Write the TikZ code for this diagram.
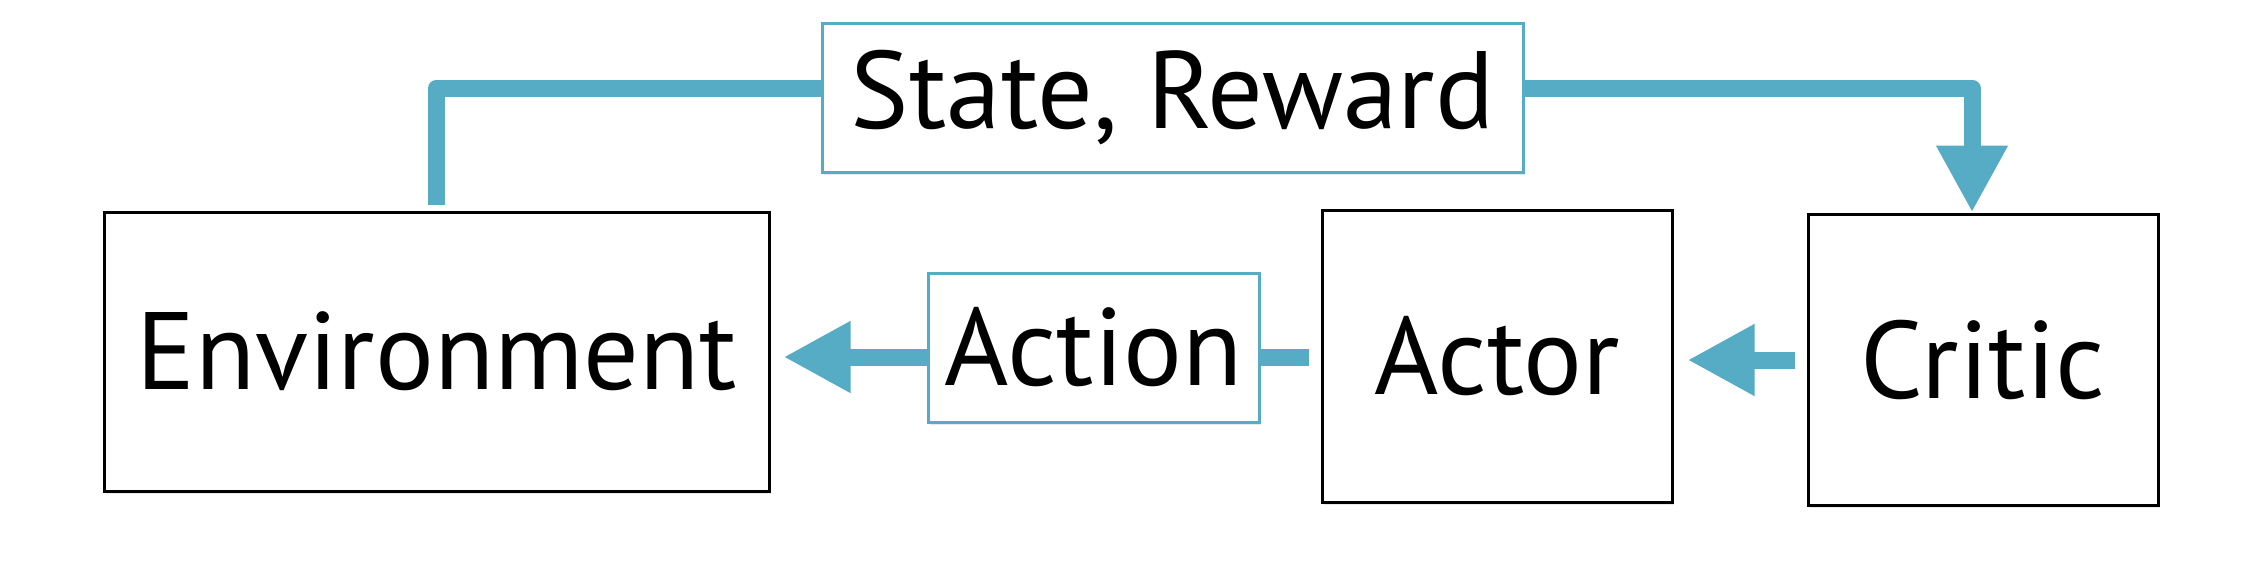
\documentclass[tikz,border=0pt]{standalone}
\usepackage{fontspec}
\setmainfont{PT Sans}
\usetikzlibrary{arrows.meta,shadows}
\definecolor{flowblue}{RGB}{86,172,196}
\tikzset{
  block/.style={draw=black,line width=3pt,fill=white,inner sep=0pt,
    drop shadow={opacity=0.18,shadow xshift=2pt,shadow yshift=-3pt}},
  lbl/.style={draw=flowblue,line width=3pt,fill=white,inner sep=0pt,
    drop shadow={opacity=0.18,shadow xshift=2pt,shadow yshift=-3pt}},
  flow/.style={draw=flowblue,line width=17pt},
  bigtip/.style={-{Triangle[length=67pt,width=67pt]}},
  txt/.style={font=\fontsize{110}{120}\selectfont}
}
\begin{document}
\begin{tikzpicture}[x=1pt,y=-1pt]
\useasboundingbox[fill=white] (0,0) rectangle (2266,562);
\node[block,txt,minimum width=665pt,minimum height=279pt] (env) at (436.5,351.5) {Environment};
\node[block,txt,minimum width=350pt,minimum height=292pt] (actor) at (1497,356) {Actor};
\node[block,txt,minimum width=350pt,minimum height=291pt] (critic) at (1983,359.5) {Critic};
\coordinate (turn) at (1972,88);
\draw[flow,line join=round,shorten <=6pt,bigtip] (env.north) |- (turn) -- (turn |- critic.north);
\draw[flow,shorten <=12pt,shorten >=13pt,bigtip] (actor.west |- 0,357) -- (env.east |- 0,357);
\draw[flow,shorten <=12pt,shorten >=14pt,bigtip] (critic.west |- 0,360) -- (actor.east |- 0,360);
\node[lbl,txt,minimum width=701pt,minimum height=149pt] (sr) at (1172.5,97.5) {State, Reward};
\node[lbl,txt,minimum width=331pt,minimum height=149pt] (act) at (1093.5,347.5) {Action};
\end{tikzpicture}
\end{document}
